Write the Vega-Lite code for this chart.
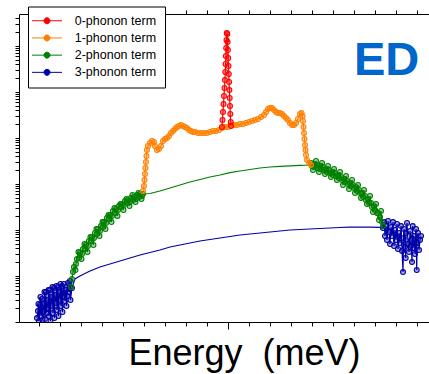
{
  "$schema": "https://vega.github.io/schema/vega-lite/v6.json",
  "width": 410,
  "height": 308,
  "autosize": {"type": "none"},
  "padding": {"left": 19, "top": 14, "right": 0, "bottom": 52},
  "config": {
    "view": {"stroke": null},
    "font": "Liberation Sans",
    "axis": {"grid": false, "labels": false, "domainColor": "black", "tickColor": "black", "domainWidth": 1, "tickWidth": 1}
  },
  "datasets": {
    "spectra": [
      {"term":"3-phonon term","energy":-90.95,"value":1.22,"marker":true},
      {"term":"3-phonon term","energy":-90.48,"value":1.73,"marker":true},
      {"term":"3-phonon term","energy":-90.24,"value":2.46,"marker":true},
      {"term":"3-phonon term","energy":-90.0,"value":1.05,"marker":true},
      {"term":"3-phonon term","energy":-89.52,"value":2.34,"marker":true},
      {"term":"3-phonon term","energy":-89.29,"value":3.50,"marker":true},
      {"term":"3-phonon term","energy":-89.05,"value":1.35,"marker":true},
      {"term":"3-phonon term","energy":-88.57,"value":3.16,"marker":true},
      {"term":"3-phonon term","energy":-88.33,"value":1.11,"marker":true},
      {"term":"3-phonon term","energy":-88.10,"value":1.65,"marker":true},
      {"term":"3-phonon term","energy":-87.62,"value":2.46,"marker":true},
      {"term":"3-phonon term","energy":-87.38,"value":4.49,"marker":true},
      {"term":"3-phonon term","energy":-87.14,"value":1.16,"marker":true},
      {"term":"3-phonon term","energy":-86.67,"value":4.49,"marker":true},
      {"term":"3-phonon term","energy":-86.43,"value":1.57,"marker":true},
      {"term":"3-phonon term","energy":-86.19,"value":1.92,"marker":true},
      {"term":"3-phonon term","energy":-85.71,"value":3.01,"marker":true},
      {"term":"3-phonon term","energy":-85.48,"value":4.96,"marker":true},
      {"term":"3-phonon term","energy":-85.24,"value":1.35,"marker":true},
      {"term":"3-phonon term","energy":-84.76,"value":4.96,"marker":true},
      {"term":"3-phonon term","energy":-84.52,"value":1.05,"marker":true},
      {"term":"3-phonon term","energy":-84.29,"value":2.23,"marker":true},
      {"term":"3-phonon term","energy":-83.81,"value":3.50,"marker":true},
      {"term":"3-phonon term","energy":-83.57,"value":5.77,"marker":true},
      {"term":"3-phonon term","energy":-83.33,"value":1.57,"marker":true},
      {"term":"3-phonon term","energy":-82.86,"value":5.48,"marker":true},
      {"term":"3-phonon term","energy":-82.62,"value":1.22,"marker":true},
      {"term":"3-phonon term","energy":-82.38,"value":2.59,"marker":true},
      {"term":"3-phonon term","energy":-81.90,"value":3.86,"marker":true},
      {"term":"3-phonon term","energy":-81.67,"value":6.06,"marker":true},
      {"term":"3-phonon term","energy":-81.43,"value":1.82,"marker":true},
      {"term":"3-phonon term","energy":-80.95,"value":5.77,"marker":true},
      {"term":"3-phonon term","energy":-80.71,"value":1.35,"marker":true},
      {"term":"3-phonon term","energy":-80.48,"value":3.01,"marker":true},
      {"term":"3-phonon term","energy":-80.0,"value":4.49,"marker":true},
      {"term":"3-phonon term","energy":-79.76,"value":6.70,"marker":true},
      {"term":"3-phonon term","energy":-79.52,"value":2.23,"marker":true},
      {"term":"3-phonon term","energy":-79.05,"value":6.06,"marker":true},
      {"term":"3-phonon term","energy":-78.81,"value":1.65,"marker":true},
      {"term":"3-phonon term","energy":-78.57,"value":3.50,"marker":true},
      {"term":"3-phonon term","energy":-78.10,"value":6.70,"marker":true},
      {"term":"3-phonon term","energy":-77.86,"value":4.27,"marker":true},
      {"term":"3-phonon term","energy":-77.62,"value":2.86,"marker":true},
      {"term":"3-phonon term","energy":-77.14,"value":4.96,"marker":true},
      {"term":"3-phonon term","energy":-76.90,"value":2.23,"marker":true},
      {"term":"3-phonon term","energy":-76.67,"value":3.67,"marker":true},
      {"term":"3-phonon term","energy":-76.19,"value":7.04,"marker":true},
      {"term":"3-phonon term","energy":-75.95,"value":5.22,"marker":true},
      {"term":"3-phonon term","energy":-75.71,"value":4.49,"marker":true},
      {"term":"3-phonon term","energy":-75.24,"value":7.79,"marker":true},
      {"term":"3-phonon term","energy":-75.0,"value":3.01,"marker":true},
      {"term":"3-phonon term","energy":-74.29,"value":5.48,"marker":true},
      {"term":"3-phonon term","energy":-72.86,"value":8.61,"marker":false},
      {"term":"3-phonon term","energy":-70.48,"value":10.0,"marker":false},
      {"term":"3-phonon term","energy":-65.71,"value":12.8,"marker":false},
      {"term":"3-phonon term","energy":-60.95,"value":15.7,"marker":false},
      {"term":"3-phonon term","energy":-56.19,"value":18.2,"marker":false},
      {"term":"3-phonon term","energy":-51.43,"value":21.2,"marker":false},
      {"term":"3-phonon term","energy":-46.67,"value":24.6,"marker":false},
      {"term":"3-phonon term","energy":-41.90,"value":28.6,"marker":false},
      {"term":"3-phonon term","energy":-37.14,"value":32.4,"marker":false},
      {"term":"3-phonon term","energy":-32.38,"value":36.7,"marker":false},
      {"term":"3-phonon term","energy":-27.62,"value":42.7,"marker":false},
      {"term":"3-phonon term","energy":-22.86,"value":47.2,"marker":false},
      {"term":"3-phonon term","energy":-18.10,"value":52.2,"marker":false},
      {"term":"3-phonon term","energy":-13.33,"value":57.7,"marker":false},
      {"term":"3-phonon term","energy":-8.57,"value":62.2,"marker":false},
      {"term":"3-phonon term","energy":-3.81,"value":67.0,"marker":false},
      {"term":"3-phonon term","energy":0.95,"value":72.2,"marker":false},
      {"term":"3-phonon term","energy":5.71,"value":77.9,"marker":false},
      {"term":"3-phonon term","energy":10.48,"value":81.9,"marker":false},
      {"term":"3-phonon term","energy":15.24,"value":86.1,"marker":false},
      {"term":"3-phonon term","energy":20.0,"value":90.5,"marker":false},
      {"term":"3-phonon term","energy":24.76,"value":95.1,"marker":false},
      {"term":"3-phonon term","energy":29.52,"value":100,"marker":false},
      {"term":"3-phonon term","energy":34.29,"value":102.6,"marker":false},
      {"term":"3-phonon term","energy":39.05,"value":105,"marker":false},
      {"term":"3-phonon term","energy":43.81,"value":107.8,"marker":false},
      {"term":"3-phonon term","energy":48.57,"value":110.5,"marker":false},
      {"term":"3-phonon term","energy":53.33,"value":113.3,"marker":false},
      {"term":"3-phonon term","energy":58.10,"value":115,"marker":false},
      {"term":"3-phonon term","energy":62.86,"value":116,"marker":false},
      {"term":"3-phonon term","energy":67.62,"value":116,"marker":false},
      {"term":"3-phonon term","energy":72.38,"value":114.5,"marker":false},
      {"term":"3-phonon term","energy":73.81,"value":110.5,"marker":true},
      {"term":"3-phonon term","energy":74.29,"value":149,"marker":true},
      {"term":"3-phonon term","energy":74.76,"value":74.1,"marker":true},
      {"term":"3-phonon term","energy":75.24,"value":122,"marker":true},
      {"term":"3-phonon term","energy":75.71,"value":60.6,"marker":true},
      {"term":"3-phonon term","energy":76.19,"value":157,"marker":true},
      {"term":"3-phonon term","energy":76.67,"value":90.5,"marker":true},
      {"term":"3-phonon term","energy":77.14,"value":49.6,"marker":true},
      {"term":"3-phonon term","energy":77.62,"value":116,"marker":true},
      {"term":"3-phonon term","energy":78.10,"value":74.1,"marker":true},
      {"term":"3-phonon term","energy":78.57,"value":149,"marker":true},
      {"term":"3-phonon term","energy":79.05,"value":44.9,"marker":true},
      {"term":"3-phonon term","energy":79.52,"value":100,"marker":true},
      {"term":"3-phonon term","energy":80.0,"value":60.6,"marker":true},
      {"term":"3-phonon term","energy":80.48,"value":135,"marker":true},
      {"term":"3-phonon term","energy":80.95,"value":38.6,"marker":true},
      {"term":"3-phonon term","energy":81.43,"value":86.1,"marker":true},
      {"term":"3-phonon term","energy":81.90,"value":52.2,"marker":true},
      {"term":"3-phonon term","energy":82.38,"value":122,"marker":true},
      {"term":"3-phonon term","energy":82.86,"value":35.0,"marker":true},
      {"term":"3-phonon term","energy":83.33,"value":12.2,"marker":true},
      {"term":"3-phonon term","energy":83.57,"value":67.0,"marker":true},
      {"term":"3-phonon term","energy":83.81,"value":105,"marker":true},
      {"term":"3-phonon term","energy":84.29,"value":42.7,"marker":true},
      {"term":"3-phonon term","energy":84.62,"value":24.6,"marker":true},
      {"term":"3-phonon term","energy":84.76,"value":86.1,"marker":true},
      {"term":"3-phonon term","energy":85.24,"value":142,"marker":true},
      {"term":"3-phonon term","energy":85.71,"value":49.6,"marker":true},
      {"term":"3-phonon term","energy":86.19,"value":33.2,"marker":true},
      {"term":"3-phonon term","energy":86.67,"value":95.1,"marker":true},
      {"term":"3-phonon term","energy":87.14,"value":60.6,"marker":true},
      {"term":"3-phonon term","energy":87.62,"value":20.2,"marker":true},
      {"term":"3-phonon term","energy":87.95,"value":122,"marker":true},
      {"term":"3-phonon term","energy":88.10,"value":40.6,"marker":true},
      {"term":"3-phonon term","energy":88.57,"value":74.1,"marker":true},
      {"term":"3-phonon term","energy":89.05,"value":30.1,"marker":true},
      {"term":"3-phonon term","energy":89.52,"value":105,"marker":true},
      {"term":"3-phonon term","energy":89.86,"value":13.5,"marker":true},
      {"term":"3-phonon term","energy":90.0,"value":52.2,"marker":true},
      {"term":"3-phonon term","energy":90.48,"value":86.1,"marker":true},
      {"term":"3-phonon term","energy":90.95,"value":36.7,"marker":true},
      {"term":"3-phonon term","energy":91.43,"value":60.6,"marker":true},
      {"term":"3-phonon term","energy":91.90,"value":74.1,"marker":true},

      {"term":"2-phonon term","energy":-74.76,"value":5.77,"marker":true},
      {"term":"2-phonon term","energy":-74.29,"value":8.61,"marker":true},
      {"term":"2-phonon term","energy":-73.81,"value":12.2,"marker":true},
      {"term":"2-phonon term","energy":-73.33,"value":15.7,"marker":true},
      {"term":"2-phonon term","energy":-72.62,"value":13.5,"marker":true},
      {"term":"2-phonon term","energy":-72.38,"value":18.2,"marker":true},
      {"term":"2-phonon term","energy":-71.90,"value":23.4,"marker":true},
      {"term":"2-phonon term","energy":-71.19,"value":33.2,"marker":true},
      {"term":"2-phonon term","energy":-70.95,"value":24.6,"marker":true},
      {"term":"2-phonon term","energy":-70.48,"value":31.6,"marker":true},
      {"term":"2-phonon term","energy":-69.76,"value":23.4,"marker":true},
      {"term":"2-phonon term","energy":-69.52,"value":30.1,"marker":true},
      {"term":"2-phonon term","energy":-69.05,"value":38.6,"marker":true},
      {"term":"2-phonon term","energy":-68.33,"value":49.6,"marker":true},
      {"term":"2-phonon term","energy":-68.10,"value":38.6,"marker":true},
      {"term":"2-phonon term","energy":-67.62,"value":47.2,"marker":true},
      {"term":"2-phonon term","energy":-66.90,"value":33.2,"marker":true},
      {"term":"2-phonon term","energy":-66.67,"value":44.9,"marker":true},
      {"term":"2-phonon term","energy":-66.19,"value":57.7,"marker":true},
      {"term":"2-phonon term","energy":-65.48,"value":70.4,"marker":true},
      {"term":"2-phonon term","energy":-65.24,"value":57.7,"marker":true},
      {"term":"2-phonon term","energy":-64.76,"value":70.4,"marker":true},
      {"term":"2-phonon term","energy":-64.05,"value":47.2,"marker":true},
      {"term":"2-phonon term","energy":-63.81,"value":67.0,"marker":true},
      {"term":"2-phonon term","energy":-63.33,"value":86.1,"marker":true},
      {"term":"2-phonon term","energy":-62.62,"value":105,"marker":true},
      {"term":"2-phonon term","energy":-62.38,"value":81.9,"marker":true},
      {"term":"2-phonon term","energy":-61.90,"value":105,"marker":true},
      {"term":"2-phonon term","energy":-61.19,"value":74.1,"marker":true},
      {"term":"2-phonon term","energy":-60.95,"value":95.1,"marker":true},
      {"term":"2-phonon term","energy":-60.48,"value":122,"marker":true},
      {"term":"2-phonon term","energy":-59.76,"value":149,"marker":true},
      {"term":"2-phonon term","energy":-59.52,"value":116,"marker":true},
      {"term":"2-phonon term","energy":-59.05,"value":149,"marker":true},
      {"term":"2-phonon term","energy":-58.33,"value":105,"marker":true},
      {"term":"2-phonon term","energy":-58.10,"value":142,"marker":true},
      {"term":"2-phonon term","energy":-57.62,"value":182,"marker":true},
      {"term":"2-phonon term","energy":-56.90,"value":212,"marker":true},
      {"term":"2-phonon term","energy":-56.67,"value":173,"marker":true},
      {"term":"2-phonon term","energy":-56.19,"value":212,"marker":true},
      {"term":"2-phonon term","energy":-55.48,"value":149,"marker":true},
      {"term":"2-phonon term","energy":-55.24,"value":202,"marker":true},
      {"term":"2-phonon term","energy":-54.76,"value":259,"marker":true},
      {"term":"2-phonon term","energy":-54.05,"value":301,"marker":true},
      {"term":"2-phonon term","energy":-53.81,"value":234,"marker":true},
      {"term":"2-phonon term","energy":-53.33,"value":286,"marker":true},
      {"term":"2-phonon term","energy":-52.62,"value":202,"marker":true},
      {"term":"2-phonon term","energy":-52.38,"value":272,"marker":true},
      {"term":"2-phonon term","energy":-51.90,"value":332,"marker":true},
      {"term":"2-phonon term","energy":-51.19,"value":367,"marker":true},
      {"term":"2-phonon term","energy":-50.95,"value":316,"marker":true},
      {"term":"2-phonon term","energy":-50.48,"value":367,"marker":true},
      {"term":"2-phonon term","energy":-49.76,"value":272,"marker":true},
      {"term":"2-phonon term","energy":-49.52,"value":350,"marker":true},
      {"term":"2-phonon term","energy":-49.05,"value":427,"marker":true},
      {"term":"2-phonon term","energy":-48.33,"value":472,"marker":true},
      {"term":"2-phonon term","energy":-48.10,"value":386,"marker":true},
      {"term":"2-phonon term","energy":-47.62,"value":449,"marker":true},
      {"term":"2-phonon term","energy":-46.90,"value":332,"marker":true},
      {"term":"2-phonon term","energy":-46.67,"value":406,"marker":true},
      {"term":"2-phonon term","energy":-46.19,"value":496,"marker":true},
      {"term":"2-phonon term","energy":-45.48,"value":577,"marker":true},
      {"term":"2-phonon term","energy":-45.24,"value":449,"marker":true},
      {"term":"2-phonon term","energy":-44.76,"value":522,"marker":true},
      {"term":"2-phonon term","energy":-44.05,"value":406,"marker":true},
      {"term":"2-phonon term","energy":-43.81,"value":472,"marker":true},
      {"term":"2-phonon term","energy":-43.33,"value":577,"marker":true},
      {"term":"2-phonon term","energy":-42.62,"value":637,"marker":true},
      {"term":"2-phonon term","energy":-42.38,"value":522,"marker":true},
      {"term":"2-phonon term","energy":-41.90,"value":606,"marker":true},
      {"term":"2-phonon term","energy":-41.19,"value":472,"marker":true},
      {"term":"2-phonon term","energy":-40.95,"value":548,"marker":true},
      {"term":"2-phonon term","energy":-40.48,"value":606,"marker":true},
      {"term":"2-phonon term","energy":-37.14,"value":621,"marker":false},
      {"term":"2-phonon term","energy":-32.38,"value":704,"marker":false},
      {"term":"2-phonon term","energy":-27.62,"value":819,"marker":false},
      {"term":"2-phonon term","energy":-22.86,"value":951,"marker":false},
      {"term":"2-phonon term","energy":-18.10,"value":1105,"marker":false},
      {"term":"2-phonon term","energy":-13.33,"value":1253,"marker":false},
      {"term":"2-phonon term","energy":-8.57,"value":1420,"marker":false},
      {"term":"2-phonon term","energy":-3.81,"value":1569,"marker":false},
      {"term":"2-phonon term","energy":0.95,"value":1760,"marker":false},
      {"term":"2-phonon term","energy":5.71,"value":1917,"marker":false},
      {"term":"2-phonon term","energy":10.48,"value":2066,"marker":false},
      {"term":"2-phonon term","energy":15.24,"value":2228,"marker":false},
      {"term":"2-phonon term","energy":20.0,"value":2342,"marker":false},
      {"term":"2-phonon term","energy":24.76,"value":2425,"marker":false},
      {"term":"2-phonon term","energy":29.52,"value":2487,"marker":false},
      {"term":"2-phonon term","energy":34.29,"value":2550,"marker":false},
      {"term":"2-phonon term","energy":39.05,"value":2588,"marker":false},
      {"term":"2-phonon term","energy":39.52,"value":2861,"marker":true},
      {"term":"2-phonon term","energy":40.0,"value":2462,"marker":true},
      {"term":"2-phonon term","energy":40.48,"value":2015,"marker":true},
      {"term":"2-phonon term","energy":40.95,"value":2721,"marker":true},
      {"term":"2-phonon term","energy":41.43,"value":2342,"marker":true},
      {"term":"2-phonon term","energy":41.90,"value":3162,"marker":true},
      {"term":"2-phonon term","energy":42.38,"value":2588,"marker":true},
      {"term":"2-phonon term","energy":42.86,"value":2228,"marker":true},
      {"term":"2-phonon term","energy":43.33,"value":1823,"marker":true},
      {"term":"2-phonon term","energy":43.81,"value":2462,"marker":true},
      {"term":"2-phonon term","energy":44.29,"value":2119,"marker":true},
      {"term":"2-phonon term","energy":44.76,"value":2861,"marker":true},
      {"term":"2-phonon term","energy":45.24,"value":2342,"marker":true},
      {"term":"2-phonon term","energy":45.71,"value":2015,"marker":true},
      {"term":"2-phonon term","energy":46.19,"value":1648,"marker":true},
      {"term":"2-phonon term","energy":46.67,"value":2119,"marker":true},
      {"term":"2-phonon term","energy":47.14,"value":1823,"marker":true},
      {"term":"2-phonon term","energy":47.62,"value":2462,"marker":true},
      {"term":"2-phonon term","energy":48.10,"value":2015,"marker":true},
      {"term":"2-phonon term","energy":48.57,"value":1734,"marker":true},
      {"term":"2-phonon term","energy":49.05,"value":1420,"marker":true},
      {"term":"2-phonon term","energy":49.52,"value":1823,"marker":true},
      {"term":"2-phonon term","energy":50.0,"value":1569,"marker":true},
      {"term":"2-phonon term","energy":50.48,"value":2119,"marker":true},
      {"term":"2-phonon term","energy":50.95,"value":1734,"marker":true},
      {"term":"2-phonon term","energy":51.43,"value":1493,"marker":true},
      {"term":"2-phonon term","energy":51.90,"value":1222,"marker":true},
      {"term":"2-phonon term","energy":52.38,"value":1569,"marker":true},
      {"term":"2-phonon term","energy":52.86,"value":1350,"marker":true},
      {"term":"2-phonon term","energy":53.33,"value":1823,"marker":true},
      {"term":"2-phonon term","energy":53.81,"value":1420,"marker":true},
      {"term":"2-phonon term","energy":54.29,"value":1222,"marker":true},
      {"term":"2-phonon term","energy":54.76,"value":951,"marker":true},
      {"term":"2-phonon term","energy":55.24,"value":1284,"marker":true},
      {"term":"2-phonon term","energy":55.71,"value":1105,"marker":true},
      {"term":"2-phonon term","energy":56.19,"value":1493,"marker":true},
      {"term":"2-phonon term","energy":56.67,"value":1162,"marker":true},
      {"term":"2-phonon term","energy":57.14,"value":1000,"marker":true},
      {"term":"2-phonon term","energy":57.62,"value":779,"marker":true},
      {"term":"2-phonon term","energy":58.10,"value":1051,"marker":true},
      {"term":"2-phonon term","energy":58.57,"value":905,"marker":true},
      {"term":"2-phonon term","energy":59.05,"value":1222,"marker":true},
      {"term":"2-phonon term","energy":59.52,"value":951,"marker":true},
      {"term":"2-phonon term","energy":60.0,"value":819,"marker":true},
      {"term":"2-phonon term","energy":60.48,"value":637,"marker":true},
      {"term":"2-phonon term","energy":60.95,"value":861,"marker":true},
      {"term":"2-phonon term","energy":61.43,"value":704,"marker":true},
      {"term":"2-phonon term","energy":61.90,"value":951,"marker":true},
      {"term":"2-phonon term","energy":62.38,"value":741,"marker":true},
      {"term":"2-phonon term","energy":62.86,"value":637,"marker":true},
      {"term":"2-phonon term","energy":63.33,"value":496,"marker":true},
      {"term":"2-phonon term","energy":63.81,"value":637,"marker":true},
      {"term":"2-phonon term","energy":64.29,"value":522,"marker":true},
      {"term":"2-phonon term","energy":64.76,"value":741,"marker":true},
      {"term":"2-phonon term","energy":65.24,"value":548,"marker":true},
      {"term":"2-phonon term","energy":65.71,"value":449,"marker":true},
      {"term":"2-phonon term","energy":66.19,"value":367,"marker":true},
      {"term":"2-phonon term","energy":66.67,"value":472,"marker":true},
      {"term":"2-phonon term","energy":67.14,"value":386,"marker":true},
      {"term":"2-phonon term","energy":67.62,"value":548,"marker":true},
      {"term":"2-phonon term","energy":68.10,"value":386,"marker":true},
      {"term":"2-phonon term","energy":68.57,"value":316,"marker":true},
      {"term":"2-phonon term","energy":69.05,"value":246,"marker":true},
      {"term":"2-phonon term","energy":69.52,"value":332,"marker":true},
      {"term":"2-phonon term","energy":70.0,"value":272,"marker":true},
      {"term":"2-phonon term","energy":70.48,"value":367,"marker":true},
      {"term":"2-phonon term","energy":70.95,"value":234,"marker":true},
      {"term":"2-phonon term","energy":71.43,"value":234,"marker":true},
      {"term":"2-phonon term","energy":71.90,"value":165,"marker":true},
      {"term":"2-phonon term","energy":72.38,"value":192,"marker":true},
      {"term":"2-phonon term","energy":72.86,"value":259,"marker":true},
      {"term":"2-phonon term","energy":73.33,"value":149,"marker":true},
      {"term":"2-phonon term","energy":73.81,"value":122,"marker":true},

      {"term":"1-phonon term","energy":-40.48,"value":705,"marker":true},
      {"term":"1-phonon term","energy":-40.0,"value":906,"marker":true},
      {"term":"1-phonon term","energy":-39.76,"value":1222,"marker":true},
      {"term":"1-phonon term","energy":-39.52,"value":1648,"marker":true},
      {"term":"1-phonon term","energy":-39.29,"value":2228,"marker":true},
      {"term":"1-phonon term","energy":-39.05,"value":3006,"marker":true},
      {"term":"1-phonon term","energy":-38.81,"value":4064,"marker":true},
      {"term":"1-phonon term","energy":-38.57,"value":5483,"marker":true},
      {"term":"1-phonon term","energy":-38.10,"value":6699,"marker":true},
      {"term":"1-phonon term","energy":-37.14,"value":7780,"marker":true},
      {"term":"1-phonon term","energy":-36.19,"value":8610,"marker":true},
      {"term":"1-phonon term","energy":-35.24,"value":8185,"marker":true},
      {"term":"1-phonon term","energy":-34.76,"value":6699,"marker":true},
      {"term":"1-phonon term","energy":-33.81,"value":5483,"marker":true},
      {"term":"1-phonon term","energy":-32.86,"value":5768,"marker":true},
      {"term":"1-phonon term","energy":-31.90,"value":6699,"marker":true},
      {"term":"1-phonon term","energy":-30.95,"value":8610,"marker":true},
      {"term":"1-phonon term","energy":-30.0,"value":9506,"marker":true},
      {"term":"1-phonon term","energy":-29.05,"value":10000,"marker":true},
      {"term":"1-phonon term","energy":-28.10,"value":11040,"marker":true},
      {"term":"1-phonon term","energy":-27.14,"value":12850,"marker":true},
      {"term":"1-phonon term","energy":-26.19,"value":14190,"marker":true},
      {"term":"1-phonon term","energy":-25.24,"value":15700,"marker":true},
      {"term":"1-phonon term","energy":-24.29,"value":17340,"marker":true},
      {"term":"1-phonon term","energy":-23.33,"value":18240,"marker":true},
      {"term":"1-phonon term","energy":-22.38,"value":19190,"marker":true},
      {"term":"1-phonon term","energy":-21.43,"value":18240,"marker":true},
      {"term":"1-phonon term","energy":-20.48,"value":17340,"marker":true},
      {"term":"1-phonon term","energy":-19.52,"value":16480,"marker":true},
      {"term":"1-phonon term","energy":-18.57,"value":14930,"marker":true},
      {"term":"1-phonon term","energy":-17.62,"value":14190,"marker":true},
      {"term":"1-phonon term","energy":-16.67,"value":13490,"marker":true},
      {"term":"1-phonon term","energy":-15.71,"value":13490,"marker":true},
      {"term":"1-phonon term","energy":-14.29,"value":12850,"marker":true},
      {"term":"1-phonon term","energy":-12.86,"value":12850,"marker":true},
      {"term":"1-phonon term","energy":-11.43,"value":12850,"marker":true},
      {"term":"1-phonon term","energy":-10.0,"value":12850,"marker":true},
      {"term":"1-phonon term","energy":-8.57,"value":13490,"marker":true},
      {"term":"1-phonon term","energy":-7.14,"value":14190,"marker":true},
      {"term":"1-phonon term","energy":-5.71,"value":14190,"marker":true},
      {"term":"1-phonon term","energy":-4.29,"value":14930,"marker":true},
      {"term":"1-phonon term","energy":-2.86,"value":16480,"marker":true},
      {"term":"1-phonon term","energy":-1.43,"value":17340,"marker":true},
      {"term":"1-phonon term","energy":0.0,"value":17340,"marker":true},
      {"term":"1-phonon term","energy":1.43,"value":19190,"marker":true},
      {"term":"1-phonon term","energy":2.86,"value":19190,"marker":true},
      {"term":"1-phonon term","energy":4.29,"value":19190,"marker":true},
      {"term":"1-phonon term","energy":5.71,"value":20140,"marker":true},
      {"term":"1-phonon term","energy":7.14,"value":20140,"marker":true},
      {"term":"1-phonon term","energy":8.57,"value":21180,"marker":true},
      {"term":"1-phonon term","energy":10.0,"value":22280,"marker":true},
      {"term":"1-phonon term","energy":11.43,"value":23440,"marker":true},
      {"term":"1-phonon term","energy":12.86,"value":24600,"marker":true},
      {"term":"1-phonon term","energy":14.29,"value":25880,"marker":true},
      {"term":"1-phonon term","energy":15.71,"value":28640,"marker":true},
      {"term":"1-phonon term","energy":17.14,"value":31620,"marker":true},
      {"term":"1-phonon term","energy":18.10,"value":36730,"marker":true},
      {"term":"1-phonon term","energy":19.05,"value":42660,"marker":true},
      {"term":"1-phonon term","energy":20.0,"value":44870,"marker":true},
      {"term":"1-phonon term","energy":20.95,"value":44870,"marker":true},
      {"term":"1-phonon term","energy":21.90,"value":40640,"marker":true},
      {"term":"1-phonon term","energy":22.86,"value":36730,"marker":true},
      {"term":"1-phonon term","energy":23.81,"value":34910,"marker":true},
      {"term":"1-phonon term","energy":24.76,"value":34910,"marker":true},
      {"term":"1-phonon term","energy":25.71,"value":33270,"marker":true},
      {"term":"1-phonon term","energy":26.67,"value":30060,"marker":true},
      {"term":"1-phonon term","energy":27.62,"value":27230,"marker":true},
      {"term":"1-phonon term","energy":28.57,"value":24600,"marker":true},
      {"term":"1-phonon term","energy":29.52,"value":21180,"marker":true},
      {"term":"1-phonon term","energy":30.48,"value":19190,"marker":true},
      {"term":"1-phonon term","energy":31.43,"value":19190,"marker":true},
      {"term":"1-phonon term","energy":32.38,"value":21180,"marker":true},
      {"term":"1-phonon term","energy":33.33,"value":25880,"marker":true},
      {"term":"1-phonon term","energy":34.29,"value":33270,"marker":true},
      {"term":"1-phonon term","energy":35.0,"value":34910,"marker":true},
      {"term":"1-phonon term","energy":35.48,"value":30060,"marker":true},
      {"term":"1-phonon term","energy":35.71,"value":23440,"marker":true},
      {"term":"1-phonon term","energy":35.95,"value":17340,"marker":true},
      {"term":"1-phonon term","energy":36.19,"value":12850,"marker":true},
      {"term":"1-phonon term","energy":36.43,"value":9506,"marker":true},
      {"term":"1-phonon term","energy":36.67,"value":7047,"marker":true},
      {"term":"1-phonon term","energy":36.90,"value":5483,"marker":true},
      {"term":"1-phonon term","energy":37.14,"value":4266,"marker":true},
      {"term":"1-phonon term","energy":37.62,"value":3327,"marker":true},
      {"term":"1-phonon term","energy":38.57,"value":2864,"marker":true},
      {"term":"1-phonon term","energy":39.52,"value":2588,"marker":true},

      {"term":"0-phonon term","energy":-2.86,"value":17340,"marker":true},
      {"term":"0-phonon term","energy":-2.62,"value":24600,"marker":true},
      {"term":"0-phonon term","energy":-2.38,"value":36700,"marker":true},
      {"term":"0-phonon term","energy":-2.14,"value":54800,"marker":true},
      {"term":"0-phonon term","energy":-1.90,"value":81900,"marker":true},
      {"term":"0-phonon term","energy":-1.67,"value":122000,"marker":true},
      {"term":"0-phonon term","energy":-1.43,"value":182000,"marker":true},
      {"term":"0-phonon term","energy":-1.29,"value":272000,"marker":true},
      {"term":"0-phonon term","energy":-1.14,"value":406000,"marker":true},
      {"term":"0-phonon term","energy":-1.0,"value":607000,"marker":true},
      {"term":"0-phonon term","energy":-0.86,"value":906000,"marker":true},
      {"term":"0-phonon term","energy":-0.71,"value":1350000,"marker":true},
      {"term":"0-phonon term","energy":-0.57,"value":1920000,"marker":true},
      {"term":"0-phonon term","energy":-0.33,"value":1820000,"marker":true},
      {"term":"0-phonon term","energy":-0.19,"value":1220000,"marker":true},
      {"term":"0-phonon term","energy":-0.05,"value":819000,"marker":true},
      {"term":"0-phonon term","energy":0.10,"value":548000,"marker":true},
      {"term":"0-phonon term","energy":0.24,"value":367000,"marker":true},
      {"term":"0-phonon term","energy":0.38,"value":246000,"marker":true},
      {"term":"0-phonon term","energy":0.52,"value":165000,"marker":true},
      {"term":"0-phonon term","energy":0.67,"value":110000,"marker":true},
      {"term":"0-phonon term","energy":0.81,"value":74100,"marker":true},
      {"term":"0-phonon term","energy":0.95,"value":49700,"marker":true},
      {"term":"0-phonon term","energy":1.10,"value":33300,"marker":true},
      {"term":"0-phonon term","energy":1.29,"value":22300,"marker":true},
      {"term":"0-phonon term","energy":1.43,"value":18200,"marker":true}
    ],
    "labels": [
      {"label": "ED", "energy": 75.5, "value": 234000}
    ]
  },
  "layer": [
    {
      "data": {"name": "spectra"},
      "mark": {"type": "line", "strokeWidth": 1.2, "clip": true},
      "encoding": {
        "x": {"field": "energy", "type": "quantitative",
          "scale": {"domain": [-99.5, 95.7], "nice": false, "zero": false},
          "axis": {"orient": "bottom", "title": "Energy\u00a0 (meV)", "titleFont": "Liberation Sans", "titleFontSize": 36, "titleFontWeight": "normal", "titleColor": "black", "titleX": 225, "titleY": 42, "titleBaseline": "alphabetic", "titleAlign": "center", "titleAnchor": null,
            "values": [-90,-80,-70,-60,-50,-40,-30,-20,-10,0,10,20,30,40,50,60,70,80,90],
            "tickSize": {"condition": {"test": "datum.value == 0", "value": 7}, "value": 4}}},
        "y": {"field": "value", "type": "quantitative",
          "scale": {"type": "log", "domain": [1, 4960000], "nice": false, "zero": false},
          "axis": {"title": null, "tickSize": 4,
            "values": [1,2,3,4,5,6,7,8,9,10,20,30,40,50,60,70,80,90,100,200,300,400,500,600,700,800,900,1000,2000,3000,4000,5000,6000,7000,8000,9000,10000,20000,30000,40000,50000,60000,70000,80000,90000,100000,200000,300000,400000,500000,600000,700000,800000,900000,1000000,2000000,3000000,4000000]}},
        "color": {"field": "term", "type": "nominal",
          "scale": {"domain": ["0-phonon term","1-phonon term","2-phonon term","3-phonon term"], "range": ["#ff0000","#ff8000","#008000","#0000aa"]},
          "legend": {"orient": "none", "legendX": 9, "legendY": -7.5, "title": null, "padding": 8,
            "strokeColor": "black", "fillColor": "white",
            "symbolType": "M-5,0L5,0M-1,0A1,1,0,1,0,1,0A1,1,0,1,0,-1,0Z",
            "symbolSize": 36, "symbolStrokeWidth": 1, "symbolOffset": 4.75,
            "labelOffset": 21.5, "labelFontSize": 12.5, "labelFont": "Liberation Sans", "labelColor": "black",
            "rowPadding": 4.2,
            "encode": {"symbols": {"update": {"fill": {"scale": "color", "field": "value"}, "stroke": {"scale": "color", "field": "value"}, "fillOpacity": {"value": 1}, "strokeOpacity": {"value": 1}}}}}},
        "detail": {"field": "term"}
      }
    },
    {
      "data": {"name": "spectra"},
      "transform": [{"filter": "datum.marker"}],
      "mark": {"type": "point", "filled": true, "fillOpacity": 0.35, "strokeOpacity": 1, "size": 24, "strokeWidth": 1.1, "opacity": 1, "clip": true},
      "encoding": {
        "x": {"field": "energy", "type": "quantitative", "axis": null},
        "y": {"field": "value", "type": "quantitative"},
        "color": {"field": "term", "type": "nominal"},
        "stroke": {"field": "term", "type": "nominal", "legend": null,
          "scale": {"domain": ["0-phonon term","1-phonon term","2-phonon term","3-phonon term"], "range": ["#ff0000","#ff8000","#008000","#0000aa"]}}
      }
    },
    {
      "data": {"name": "labels"},
      "mark": {"type": "text", "font": "Liberation Sans", "fontWeight": "bold", "fontSize": 47, "color": "#0066cc", "align": "center", "baseline": "alphabetic"},
      "encoding": {
        "x": {"field": "energy", "type": "quantitative", "axis": null},
        "y": {"field": "value", "type": "quantitative"},
        "text": {"field": "label"}
      }
    },
    {
      "data": {"values": [{"pos": 0}]},
      "mark": {"type": "rule", "opacity": 0},
      "encoding": {
        "x": {"field": "pos", "type": "quantitative", "title": null,
          "axis": {"orient": "top", "title": null, "tickSize": 4, "values": [-90,-80,-70,-60,-50,-40,-30,-20,-10,0,10,20,30,40,50,60,70,80,90]}}
      }
    }
  ],
  "resolve": {"axis": {"x": "independent"}}
}
